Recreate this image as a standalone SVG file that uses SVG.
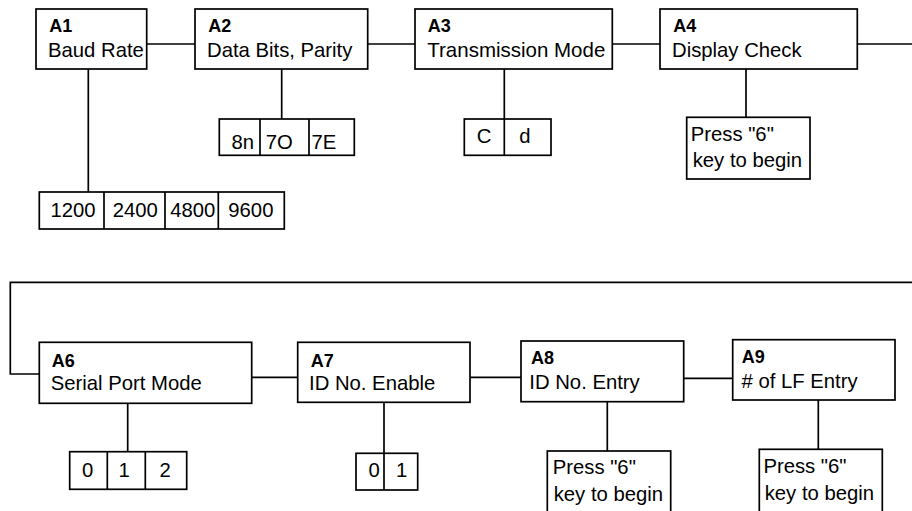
<svg xmlns="http://www.w3.org/2000/svg" width="912" height="511" viewBox="0 0 912 511">
<style>
rect{fill:#fff;stroke:#000;stroke-width:1.7}
line,polyline{stroke:#000;stroke-width:1.7;fill:none}
text{font-family:"Liberation Sans",Arial,sans-serif;font-size:20.3px;fill:#000}
text.b{font-weight:bold;font-size:18px}
</style>
<rect x="0" y="0" width="912" height="511" style="stroke:none;fill:#fff"/>
<g id="connectors">
<line x1="146.7" y1="44" x2="195" y2="44"/>
<line x1="367.7" y1="44" x2="415" y2="44"/>
<line x1="612.3" y1="44" x2="660" y2="44"/>
<line x1="857.3" y1="44" x2="912" y2="44"/>
<line x1="88.3" y1="69" x2="88.3" y2="192"/>
<line x1="281.7" y1="69" x2="281.7" y2="119"/>
<line x1="504.3" y1="69" x2="504.3" y2="119"/>
<line x1="746" y1="69" x2="746" y2="117.3"/>
<polyline points="912,282.3 10.3,282.3 10.3,374 39.3,374"/>
<line x1="251.7" y1="377.3" x2="297.7" y2="377.3"/>
<line x1="470" y1="377.3" x2="521" y2="377.3"/>
<line x1="683.7" y1="378.3" x2="732.7" y2="378.3"/>
<line x1="127.7" y1="403.3" x2="127.7" y2="451.7"/>
<line x1="384" y1="402.3" x2="384" y2="453.3"/>
<line x1="607.3" y1="401.7" x2="607.3" y2="451"/>
<line x1="818.3" y1="400" x2="818.3" y2="449.3"/>
</g>
<g id="A1">
<rect x="36" y="9" width="110.7" height="60"/>
<text class="b" x="49.3" y="32">A1</text>
<text x="48" y="57">Baud Rate</text>
</g>
<g id="A2">
<rect x="195" y="9" width="172.7" height="60"/>
<text class="b" x="208.3" y="32">A2</text>
<text x="207" y="57">Data Bits, Parity</text>
</g>
<g id="A3">
<rect x="415" y="9" width="197.3" height="60"/>
<text class="b" x="427.7" y="32">A3</text>
<text x="427.3" y="57" textLength="178" lengthAdjust="spacingAndGlyphs">Transmission Mode</text>
</g>
<g id="A4">
<rect x="660" y="9" width="197.3" height="60"/>
<text class="b" x="673.3" y="32">A4</text>
<text x="672" y="57">Display Check</text>
</g>
<g id="baud-options">
<rect x="39.3" y="192" width="245" height="37"/>
<line x1="104" y1="192" x2="104" y2="229"/>
<line x1="165" y1="192" x2="165" y2="229"/>
<line x1="218.3" y1="192" x2="218.3" y2="229"/>
<text x="50.5" y="217">1200</text>
<text x="112.7" y="217">2400</text>
<text x="170.2" y="217">4800</text>
<text x="228.3" y="217">9600</text>
</g>
<g id="parity-options">
<rect x="219.3" y="119" width="135" height="36.3"/>
<line x1="260" y1="119" x2="260" y2="155.3"/>
<line x1="309" y1="119" x2="309" y2="155.3"/>
<text x="231.5" y="149">8n</text>
<text x="265.7" y="149">7O</text>
<text x="311.5" y="149">7E</text>
</g>
<g id="mode-options">
<rect x="464.3" y="119" width="86.7" height="36.3"/>
<line x1="504.3" y1="119" x2="504.3" y2="155.3"/>
<text x="476.7" y="143">C</text>
<text x="519.3" y="143">d</text>
</g>
<g id="A4-action">
<rect x="686.7" y="117.3" width="123.3" height="61.7"/>
<text x="690.7" y="141">Press "6"</text>
<text x="692.7" y="167">key to begin</text>
</g>
<g id="A6">
<rect x="39.3" y="342.3" width="212.4" height="61"/>
<text class="b" x="51.7" y="366.7">A6</text>
<text x="50.7" y="390">Serial Port Mode</text>
</g>
<g id="A7">
<rect x="297.7" y="342.3" width="172.3" height="60"/>
<text class="b" x="310.7" y="366.7">A7</text>
<text x="309" y="390">ID No. Enable</text>
</g>
<g id="A8">
<rect x="521" y="341" width="162.7" height="60.7"/>
<text class="b" x="531" y="364.3">A8</text>
<text x="529.3" y="389">ID No. Entry</text>
</g>
<g id="A9">
<rect x="732.7" y="339.7" width="162.3" height="60.3"/>
<text class="b" x="741.7" y="363.3">A9</text>
<text x="741.5" y="388.3"># of LF Entry</text>
</g>
<g id="port-options">
<rect x="69.7" y="451.7" width="117" height="37.6"/>
<line x1="107.3" y1="451.7" x2="107.3" y2="489.3"/>
<line x1="145.3" y1="451.7" x2="145.3" y2="489.3"/>
<text x="82" y="476.7">0</text>
<text x="118.5" y="476.7">1</text>
<text x="159.4" y="476.7">2</text>
</g>
<g id="id-options">
<rect x="356" y="453.3" width="61.7" height="36.7"/>
<line x1="384" y1="453.3" x2="384" y2="490"/>
<text x="368.6" y="476.7">0</text>
<text x="396" y="476.7">1</text>
</g>
<g id="A8-action">
<rect x="547.3" y="451" width="123.4" height="70"/>
<text x="552.7" y="474.3">Press "6"</text>
<text x="553.7" y="501">key to begin</text>
</g>
<g id="A9-action">
<rect x="759.3" y="449.3" width="123" height="70"/>
<text x="763.4" y="473.3">Press "6"</text>
<text x="764.7" y="500">key to begin</text>
</g>
</svg>
